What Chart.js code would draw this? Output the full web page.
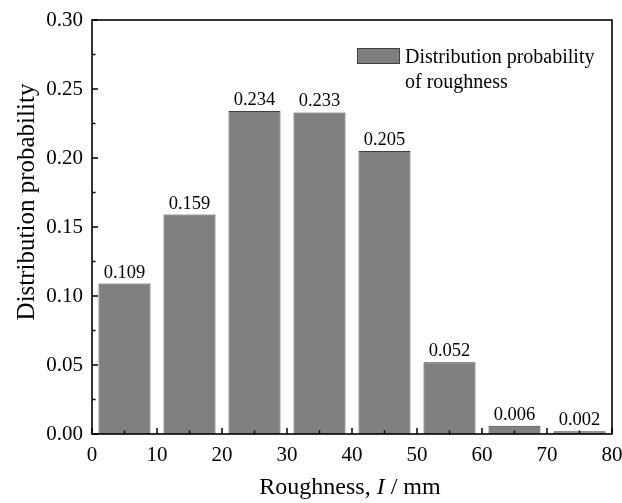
<!DOCTYPE html>
<html>
<head>
<meta charset="utf-8">
<script src="https://cdn.jsdelivr.net/npm/chart.js@4.4.0/dist/chart.umd.min.js"></script>
<style>
html,body{margin:0;padding:0;background:#fff;}
#wrap{width:622px;height:503px;position:relative;}
</style>
</head>
<body>
<div id="wrap"><canvas id="c" width="622" height="503"></canvas></div>
<script>
const binCenters = [5, 15, 25, 35, 45, 55, 65, 75];
const probabilities = [0.109, 0.159, 0.234, 0.233, 0.205, 0.052, 0.006, 0.002];
const valueLabels = ["0.109", "0.159", "0.234", "0.233", "0.205", "0.052", "0.006", "0.002"];
const xTicks = [0, 10, 20, 30, 40, 50, 60, 70, 80];
const yTicks = [0, 0.05, 0.10, 0.15, 0.20, 0.25, 0.30];
const seriesName = ["Distribution probability", "of roughness"];
const xTitle = ["Roughness, ", "I", " / mm"];
const yTitle = "Distribution probability";

const FONT = "'Liberation Serif', 'Times New Roman', serif";

const decor = {
  id: 'decor',
  afterDatasetsDraw(chart) {
    const ctx = chart.ctx;
    const a = chart.chartArea;
    const xs = chart.scales.x, ys = chart.scales.y;
    ctx.save();
    // frame
    ctx.strokeStyle = '#000';
    ctx.lineWidth = 1.6;
    ctx.strokeRect(a.left, a.top, a.right - a.left, a.bottom - a.top);
    // x ticks inward
    ctx.lineWidth = 1.5;
    for (let v = 0; v <= 80; v += 5) {
      const px = xs.getPixelForValue(v);
      const len = (v % 10 === 0) ? 6 : 3.5;
      ctx.beginPath(); ctx.moveTo(px, a.bottom); ctx.lineTo(px, a.bottom - len); ctx.stroke();
    }
    for (let i = 0; i <= 12; i++) {
      const v = i * 0.025;
      const py = ys.getPixelForValue(v);
      const len = (i % 2 === 0) ? 6 : 3.5;
      ctx.beginPath(); ctx.moveTo(a.left, py); ctx.lineTo(a.left + len, py); ctx.stroke();
    }
    // value labels
    const meta = chart.getDatasetMeta(0);
    ctx.fillStyle = '#000';
    ctx.font = '18.5px ' + FONT;
    ctx.textAlign = 'center';
    ctx.textBaseline = 'alphabetic';
    meta.data.forEach((bar, i) => {
      ctx.fillText(valueLabels[i], bar.x, bar.y - 6);
    });
    // legend
    ctx.fillStyle = '#808080';
    ctx.strokeStyle = '#404040';
    ctx.lineWidth = 1;
    ctx.fillRect(357, 48, 42, 15);
    ctx.strokeRect(357.5, 48.5, 42, 15);
    ctx.fillStyle = '#000';
    ctx.font = '20px ' + FONT;
    ctx.textAlign = 'left';
    ctx.textBaseline = 'alphabetic';
    ctx.fillText(seriesName[0], 405, 63);
    ctx.fillText(seriesName[1], 405, 88);
    // x title
    const fs = 24;
    ctx.font = fs + 'px ' + FONT;
    const w0 = ctx.measureText(xTitle[0]).width;
    ctx.font = 'italic ' + fs + 'px ' + FONT;
    const w1 = ctx.measureText(xTitle[1]).width;
    ctx.font = fs + 'px ' + FONT;
    const w2 = ctx.measureText(xTitle[2]).width;
    let sx = 350 - (w0 + w1 + w2) / 2;
    const by = 494;
    ctx.fillText(xTitle[0], sx, by); sx += w0;
    ctx.font = 'italic ' + fs + 'px ' + FONT;
    ctx.fillText(xTitle[1], sx, by); sx += w1;
    ctx.font = fs + 'px ' + FONT;
    ctx.fillText(xTitle[2], sx, by);
    // y title
    ctx.save();
    ctx.translate(34, 202);
    ctx.rotate(-Math.PI / 2);
    ctx.textAlign = 'center';
    ctx.textBaseline = 'alphabetic';
    ctx.font = '25px ' + FONT;
    ctx.fillText(yTitle, 0, 0);
    ctx.restore();
    ctx.restore();
  }
};

new Chart(document.getElementById('c'), {
  type: 'bar',
  data: {
    datasets: [{
      label: seriesName.join(' '),
      data: binCenters.map((x, i) => ({x: x, y: probabilities[i]})),
      backgroundColor: '#808080',
      borderColor: '#3f3f3f',
      borderWidth: 1,
      barPercentage: 0.8,
      categoryPercentage: 1.0
    }]
  },
  options: {
    responsive: false,
    animation: false,
    devicePixelRatio: 1,
    layout: {padding: {left: 0, right: 10, top: 20, bottom: 0}},
    plugins: {legend: {display: false}, tooltip: {enabled: false}},
    scales: {
      x: {
        type: 'linear', min: 0, max: 80, offset: false,
        afterBuildTicks: s => { s.ticks = xTicks.map(v => ({value: v})); },
        afterFit: s => { s.height = 69; s.paddingRight = 0; s.paddingLeft = 0; },
        grid: {display: false, drawTicks: false, offset: false},
        border: {display: false},
        ticks: {color: '#000', font: {family: FONT, size: 21}, padding: 9, maxRotation: 0,
          callback: v => String(v)}
      },
      y: {
        min: 0, max: 0.30,
        afterBuildTicks: s => { s.ticks = yTicks.map(v => ({value: v})); },
        afterFit: s => { s.width = 92; s.paddingTop = 0; s.paddingBottom = 0; },
        grid: {display: false, drawTicks: false},
        border: {display: false},
        ticks: {color: '#000', font: {family: FONT, size: 21}, padding: 9,
          callback: v => v.toFixed(2)}
      }
    }
  },
  plugins: [decor]
});
</script>
</body>
</html>
